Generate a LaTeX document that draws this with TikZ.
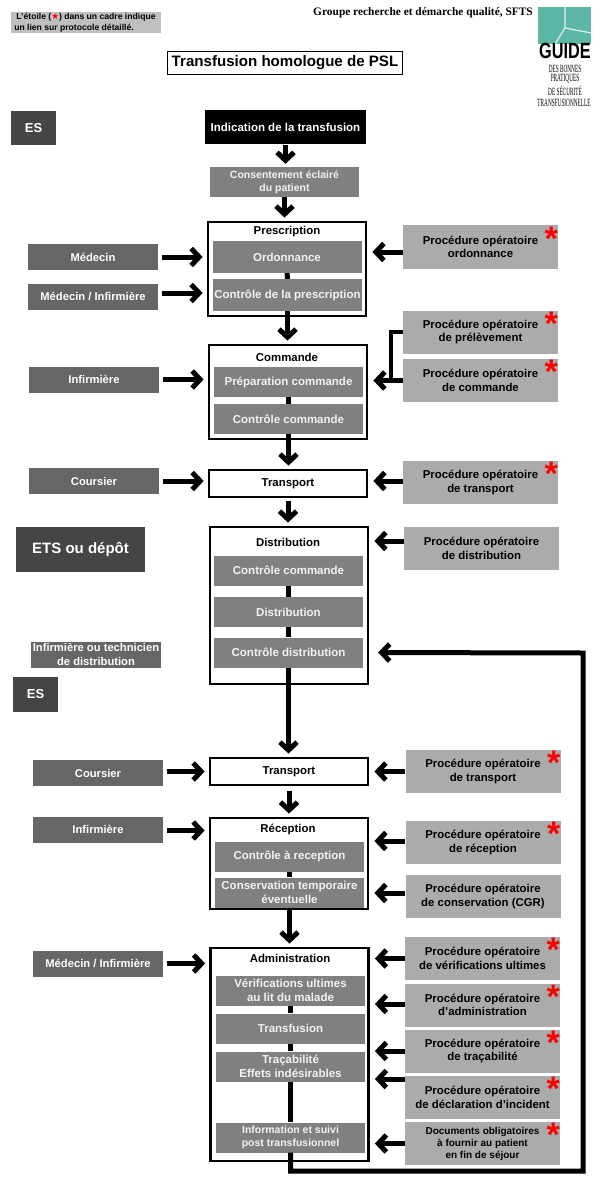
\documentclass[tikz,border=0pt]{standalone}
\usepackage{fontspec}
\setmainfont{Liberation Sans}
\newfontfamily\serifgrp{Liberation Serif}
\newfontfamily\symbfont{DejaVu Sans}
\usetikzlibrary{arrows.meta}
\definecolor{logoteal}{RGB}{92,184,164}
\newcommand{\etoile}[1]{\node[starmark] (#1star) at ([xshift=-7pt,yshift=-19pt]#1.north east) {*};}
\begin{document}
\begin{tikzpicture}[x=1pt,y=-1pt]

 \tikzset{
    every node/.style={font=\fontsize{11.4}{13.5}\selectfont\bfseries, align=center, inner sep=0pt},
    rolebox/.style={fill=black!60, text=white, minimum width=130pt, minimum height=26pt, font=\fontsize{11.2}{13.5}\selectfont\bfseries},
    procbox/.style={fill=black!33, minimum width=155pt, minimum height=43pt},
    etape/.style={fill=black!50, text=black!5, minimum width=149pt, minimum height=30pt, font=\fontsize{11.5}{13.5}\selectfont\bfseries},
    cadre/.style={draw, line width=2.8pt, fill=white, minimum width=158pt},
    cadrehead/.style={font=\fontsize{11.4}{13}\selectfont\bfseries},
    sitebox/.style={fill=black!73, text=white, font=\fontsize{13}{15}\selectfont\bfseries},
    flow/.style={line width=5pt, -{Straight Barb[length=8pt,width=17pt]}},
    inlink/.style={flow, shorten <=4pt, shorten >=4pt},
    outlink/.style={flow, shorten >=5pt},
    downlink/.style={flow, shorten >=3pt},
    steplink/.style={line width=5pt},
    starmark/.style={text=red, font=\fontsize{34}{34}\selectfont\bfseries, text height=12pt, text depth=0pt},
    logoline/.style={xscale=.48, transform shape, font=\fontsize{11}{11}\selectfont\serifgrp},
  }

  % clip to the page
  \useasboundingbox (0,0) rectangle (598,1182);

  % header
  \node[fill=black!25, minimum width=150pt, minimum height=21pt, font=\fontsize{8.6}{10.5}\selectfont\bfseries] (legende) at (86,22.5)
    {L'étoile ({\color{red}\symbfont ★}) dans un cadre indique\hspace{0pt}\\\hspace*{-24pt}un lien sur protocole détaillé.};
  \node[font=\fontsize{11.4}{13}\selectfont\bfseries\serifgrp] (groupe) at (423,13) {Groupe recherche et démarche qualité, SFTS};
  \node[draw, line width=1.5pt, minimum width=235pt, minimum height=23pt, font=\fontsize{15.1}{17}\selectfont\bfseries] (titre) at (285,63) {Transfusion homologue de PSL};

  % logo
  \fill[logoteal] (538,7) rectangle (591,44);
  \draw[white!80!logoteal, line width=1.2pt] (565,7) -- (565,28) -- (555,44) (565,28) -- (591,33);
  \node[xscale=.74, transform shape, font=\fontsize{22}{22}\selectfont\bfseries] (guide) at (565,51) {GUIDE};
  \node[logoline] (bonnes) at (565,69) {DES BONNES};
  \node[logoline] (pratiques) at (565,79) {PRATIQUES};
  \node[logoline] (securite) at (565,91) {DE SÉCURITÉ};
  \node[logoline] (transfu) at (564,103) {TRANSFUSIONNELLE};

  % sites
  \node[sitebox, minimum width=45pt, minimum height=34pt] (es) at (33.5,128) {ES};
  \node[sitebox, minimum width=129pt, minimum height=45pt, font=\fontsize{15}{17}\selectfont\bfseries] (ets) at (80.5,549.5) {ETS ou dépôt};
  \node[sitebox, minimum width=45pt, minimum height=35pt] (esbis) at (35.5,694.5) {ES};

  % frames
  \node[fill=black, text=white, minimum width=161pt, minimum height=34pt, font=\fontsize{11.5}{13}\selectfont\bfseries] (indication) at (285.5,127.5) {Indication de la transfusion};
  \node[etape, font=\fontsize{10.5}{13}\selectfont\bfseries] (consent) at (284.5,182) {Consentement éclairé\\du patient};
  \node[cadre, minimum height=94pt] (presc) at (287,269) {};
  \node[cadre, minimum height=94pt] (cmd) at (288,392) {};
  \node[cadre, minimum height=27pt] (transport) at (288,483.5) {Transport};
  \node[cadre, minimum height=157pt] (distrib) at (289,605.5) {};
  \node[cadre, minimum height=27pt] (transportbis) at (289,771.5) {Transport};
  \node[cadre, minimum height=91pt] (recep) at (289,863.5) {};
  \node[cadre, minimum height=213pt] (admin) at (289.5,1054.5) {};

  % frame titles
  \node[cadrehead] (prescT) at (287,232) {Prescription};
  \node[cadrehead] (cmdT) at (287,357) {Commande};
  \node[cadrehead] (distribT) at (288,542) {Distribution};
  \node[cadrehead] (recepT) at (288,829) {Réception};
  \node[cadrehead] (adminT) at (290,958) {Administration};

  % steps
  \node[etape, minimum height=32pt] (ordo) at (287,257) {Ordonnance};
  \node[etape, minimum height=32pt] (ctrlpresc) at (287.5,295) {Contrôle de la prescription};
  \node[etape] (prepa) at (288.5,382) {Préparation commande};
  \node[etape] (ctrlcmd) at (288.5,419) {Contrôle commande};
  \node[etape] (ctrlcmdbis) at (288.5,570.5) {Contrôle commande};
  \node[etape] (distribS) at (288.5,612) {Distribution};
  \node[etape] (ctrldist) at (288.5,652.5) {Contrôle distribution};
  \node[etape] (ctrlrecep) at (289.5,856.5) {Contrôle à reception};
  \node[etape] (conserv) at (289.5,892.5) {Conservation temporaire\\éventuelle};
  \node[etape] (verif) at (290.5,990.5) {Vérifications ultimes\\au lit du malade};
  \node[etape] (transfusion) at (290.5,1028.5) {Transfusion};
  \node[etape] (traca) at (290.5,1066.5) {Traçabilité\\Effets indésirables};
  \node[etape, font=\fontsize{10.5}{13}\selectfont\bfseries] (info) at (290.5,1137.5) {Information et suivi\\post transfusionnel};

  % roles
  \node[rolebox] (medecin) at (93,257) {Médecin};
  \node[rolebox] (medinf) at (93,296.5) {Médecin / Infirmière};
  \node[rolebox] (infirm) at (94,379.5) {Infirmière};
  \node[rolebox] (coursier) at (94,481) {Coursier};
  \node[rolebox] (inftech) at (96,654.5) {Infirmière ou technicien\\de distribution};
  \node[rolebox] (coursierbis) at (98,773) {Coursier};
  \node[rolebox] (infirmbis) at (98,829.5) {Infirmière};
  \node[rolebox] (medinfbis) at (98,963.5) {Médecin / Infirmière};

  % procedures
  \node[procbox] (pordo) at (480.5,247) {Procédure opératoire\\ordonnance};
  \node[procbox] (pprel) at (480.5,332) {Procédure opératoire\\de prélèvement};
  \node[procbox] (pcmd) at (480.5,380.5) {Procédure opératoire\\de commande};
  \node[procbox] (ptransp) at (480.5,482.5) {Procédure opératoire\\de transport};
  \node[procbox] (pdistrib) at (481.5,548.5) {Procédure opératoire\\de distribution};
  \node[procbox] (ptranspbis) at (483,771.5) {Procédure opératoire\\de transport};
  \node[procbox] (precep) at (483,842.5) {Procédure opératoire\\de réception};
  \node[procbox] (pcons) at (483,896.5) {Procédure opératoire\\de conservation (CGR)};
  \node[procbox] (pverif) at (482.5,958.5) {Procédure opératoire\\de vérifications ultimes};
  \node[procbox] (padmin) at (482.5,1005) {Procédure opératoire\\d'administration};
  \node[procbox] (ptraca) at (482.5,1051) {Procédure opératoire\\de traçabilité};
  \node[procbox] (pdecl) at (482.5,1097.5) {Procédure opératoire\\de déclaration d'incident};
  \node[procbox, font=\fontsize{10}{12}\selectfont\bfseries] (pdocs) at (482.5,1143.5) {Documents obligatoires\\à fournir au patient\\en fin de séjour};

  \etoile{pordo} \etoile{pprel} \etoile{pcmd} \etoile{ptransp} \etoile{ptranspbis} \etoile{precep}
  \etoile{pverif} \etoile{padmin} \etoile{ptraca} \etoile{pdecl} \etoile{pdocs}

  % main line
  \draw[downlink] (indication.south) -- (indication.south |- consent.north);
  \draw[downlink] (consent.south) -- (consent.south |- presc.north);
  \draw[downlink] (ctrlpresc.south) -- (ctrlpresc.south |- cmd.north);
  \draw[downlink] (ctrlcmd.south) -- (ctrlcmd.south |- transport.north);
  \draw[downlink, shorten <=3pt] (transport.south) -- (transport.south |- distrib.north);
  \draw[downlink] (ctrldist.south) -- (ctrldist.south |- transportbis.north);
  \draw[downlink, shorten <=5pt] (transportbis.south) -- (transportbis.south |- recep.north);
  \draw[downlink] (conserv.south) -- (conserv.south |- admin.north);
  \draw[steplink] (ordo) -- (ctrlpresc);
  \draw[steplink] (prepa) -- (ctrlcmd);
  \draw[steplink] (ctrlcmdbis) -- (distribS);
  \draw[steplink] (distribS) -- (ctrldist);
  \draw[steplink] (ctrlrecep) -- (conserv);
  \draw[steplink] (verif) -- (transfusion);
  \draw[steplink] (transfusion) -- (traca);
  \draw[steplink] (traca) -- (info);

  % roles to frames
  \draw[inlink] (medecin.east) -- (medecin.east -| presc.west);
  \draw[inlink] ([yshift=3.5pt]medinf.east) -- ([yshift=3.5pt]medinf.east -| presc.west);
  \draw[inlink] (infirm.east) -- (infirm.east -| cmd.west);
  \draw[inlink] (coursier.east) -- (coursier.east -| transport.west);
  \draw[inlink] ([yshift=1.5pt]coursierbis.east) -- ([yshift=1.5pt]coursierbis.east -| transportbis.west);
  \draw[inlink] ([yshift=-1pt]infirmbis.east) -- ([yshift=-1pt]infirmbis.east -| recep.west);
  \draw[inlink] (medinfbis.east) -- (medinfbis.east -| admin.west);

  % procedures to frames
  \draw[outlink] ([yshift=-5pt]pordo.west) -- ([yshift=-5pt]pordo.west -| presc.east);
  \draw[line width=4pt] (pprel.west) -| ([xshift=-12pt]pcmd.west);
  \draw[outlink] (pcmd.west) -- (pcmd.west -| cmd.east);
  \draw[outlink] ([yshift=1.5pt]ptransp.west) -- ([yshift=1.5pt]ptransp.west -| transport.east);
  \draw[outlink] ([yshift=7.5pt]pdistrib.west) -- ([yshift=7.5pt]pdistrib.west -| distrib.east);
  \draw[outlink] (ptranspbis.west) -- (ptranspbis.west -| transportbis.east);
  \draw[outlink] ([yshift=1.5pt]precep.west) -- ([yshift=1.5pt]precep.west -| recep.east);
  \draw[outlink] ([yshift=3.5pt]pcons.west) -- ([yshift=3.5pt]pcons.west -| recep.east);
  \draw[outlink] (pverif.west) -- (pverif.west -| admin.east);
  \draw[outlink] ([yshift=1pt]padmin.west) -- ([yshift=1pt]padmin.west -| admin.east);
  \draw[outlink] (ptraca.west) -- (ptraca.west -| admin.east);
  \draw[outlink] ([yshift=18.5pt]pdecl.west) -- ([yshift=18.5pt]pdecl.west -| admin.east);
  \draw[outlink] (pdocs.west) -- (pdocs.west -| admin.east);

  % return line
  \coordinate (loopbas) at (583,1171);
  \coordinate (loophaut) at (583,653);
  \draw[flow, shorten >=15pt] (info.south) |- (loopbas) -- (loophaut) -- (ctrldist.east);

\end{tikzpicture}
\end{document}
